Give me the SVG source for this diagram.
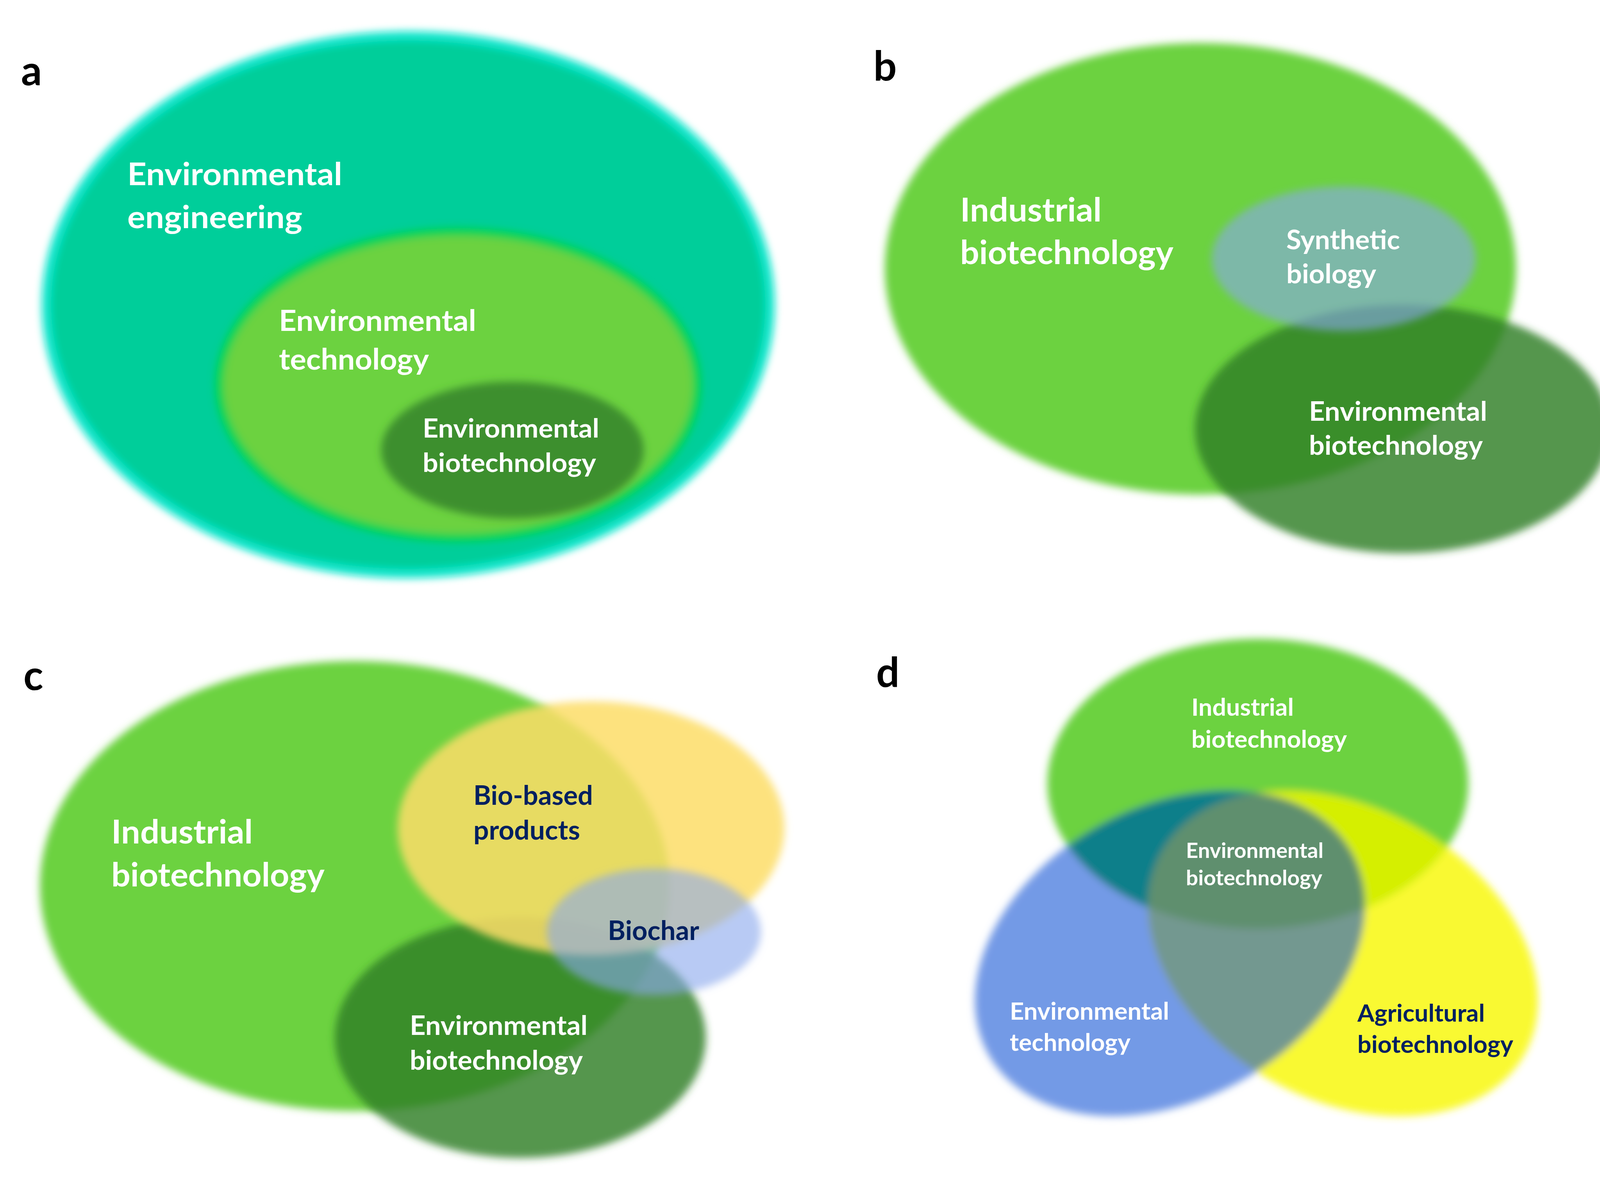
<svg xmlns="http://www.w3.org/2000/svg" width="4184" height="3028" viewBox="0 0 4184 3028">
<defs>
<style>
.t{font-family:Lato,"Open Sans","Liberation Sans",sans-serif;font-weight:700}
.w{fill:#ffffff}
.n{fill:#002060}
.k{fill:#000000}
.s{filter:url(#soft)}
</style>
<filter id="soft" x="-15%" y="-15%" width="130%" height="130%"><feGaussianBlur stdDeviation="10"/></filter>
<clipPath id="cBlue"><ellipse cx="2995" cy="2440" rx="532" ry="374" transform="rotate(-29 2995 2440)"/></clipPath>
<clipPath id="cYellow"><ellipse cx="3438" cy="2440" rx="532" ry="374" transform="rotate(29 3438 2440)"/></clipPath>
</defs>
<rect width="4184" height="3028" fill="#ffffff"/>

<!-- Panel a -->
<g id="panel-a">
<text class="t k" x="54" y="218" font-size="105">a</text>
<g id="a-environmental-engineering">
<ellipse class="s" cx="1045" cy="780" rx="926" ry="688" fill="#00CE9A" stroke="#10E6CC" stroke-width="24"/>
<text class="t w" font-size="81"><tspan x="326" y="474" textLength="550" lengthAdjust="spacingAndGlyphs">Environmental</tspan><tspan x="326" y="584" textLength="448" lengthAdjust="spacingAndGlyphs">engineering</tspan></text>
</g>
<g id="a-environmental-technology">
<ellipse class="s" cx="1173" cy="985" rx="612" ry="392" fill="#6CD241" stroke="#00D455" stroke-width="22"/>
<text class="t w" font-size="75"><tspan x="714" y="847" textLength="505" lengthAdjust="spacingAndGlyphs">Environmental</tspan><tspan x="714" y="946" textLength="384" lengthAdjust="spacingAndGlyphs">technology</tspan></text>
</g>
<g id="a-environmental-biotechnology">
<ellipse class="s" cx="1312" cy="1152" rx="336" ry="175" fill="#3D8F2E"/>
<text class="t w" font-size="67"><tspan x="1082" y="1120" textLength="452" lengthAdjust="spacingAndGlyphs">Environmental</tspan><tspan x="1082" y="1208" textLength="444" lengthAdjust="spacingAndGlyphs">biotechnology</tspan></text>
</g>
</g>

<!-- Panel b -->
<g id="panel-b">
<text class="t k" x="2236" y="206" font-size="105">b</text>
<g id="b-industrial-biotechnology">
<ellipse class="s" cx="3073" cy="688" rx="808" ry="578" fill="#6CD241"/>
<text class="t w" font-size="84"><tspan x="2458" y="567" textLength="362" lengthAdjust="spacingAndGlyphs">Industrial</tspan><tspan x="2458" y="676" textLength="546" lengthAdjust="spacingAndGlyphs">biotechnology</tspan></text>
</g>
<g id="b-environmental-biotechnology">
<ellipse class="s" cx="3590" cy="1098" rx="531" ry="318" fill="#317F27" fill-opacity="0.82"/>
<text class="t w" font-size="68"><tspan x="3351" y="1077" textLength="456" lengthAdjust="spacingAndGlyphs">Environmental</tspan><tspan x="3351" y="1164" textLength="445" lengthAdjust="spacingAndGlyphs">biotechnology</tspan></text>
</g>
<g id="b-synthetic-biology">
<ellipse class="s" cx="3440" cy="662" rx="338" ry="185" fill="#88A7ED" fill-opacity="0.6"/>
<text class="t w" font-size="68"><tspan x="3293" y="638" textLength="291" lengthAdjust="spacingAndGlyphs">Synthetic</tspan><tspan x="3293" y="725" textLength="230" lengthAdjust="spacingAndGlyphs">biology</tspan></text>
</g>
</g>

<!-- Panel c -->
<g id="panel-c">
<text class="t k" x="60" y="1766" font-size="105">c</text>
<g id="c-industrial-biotechnology">
<ellipse class="s" cx="908" cy="2268" rx="806" ry="576" fill="#6CD241"/>
<text class="t w" font-size="84"><tspan x="285" y="2159" textLength="362" lengthAdjust="spacingAndGlyphs">Industrial</tspan><tspan x="285" y="2269" textLength="546" lengthAdjust="spacingAndGlyphs">biotechnology</tspan></text>
</g>
<g id="c-environmental-biotechnology">
<ellipse class="s" cx="1332" cy="2656" rx="475" ry="308" fill="#317F27" fill-opacity="0.82"/>
<text class="t w" font-size="68"><tspan x="1049" y="2649" textLength="455" lengthAdjust="spacingAndGlyphs">Environmental</tspan><tspan x="1049" y="2738" textLength="443" lengthAdjust="spacingAndGlyphs">biotechnology</tspan></text>
</g>
<g id="c-bio-based-products">
<ellipse class="s" cx="1513" cy="2120" rx="495" ry="325" fill="#FDDD68" fill-opacity="0.85"/>
<text class="t n" font-size="68"><tspan x="1212" y="2060" textLength="306" lengthAdjust="spacingAndGlyphs">Bio-based</tspan><tspan x="1212" y="2149" textLength="273" lengthAdjust="spacingAndGlyphs">products</tspan></text>
</g>
<g id="c-biochar">
<ellipse class="s" cx="1674" cy="2385" rx="274" ry="162" fill="#88A7ED" fill-opacity="0.6"/>
<text class="t n" x="1556" y="2406" font-size="68" textLength="234" lengthAdjust="spacingAndGlyphs">Biochar</text>
</g>
</g>

<!-- Panel d -->
<g id="panel-d">
<text class="t k" x="2243" y="1758" font-size="105">d</text>
<g id="d-fills" class="s">
<g id="d-environmental-technology-shape"><ellipse cx="2995" cy="2440" rx="532" ry="374" transform="rotate(-29 2995 2440)" fill="#739AE6"/></g>
<g id="d-agricultural-biotechnology-shape"><ellipse cx="3438" cy="2440" rx="532" ry="374" transform="rotate(29 3438 2440)" fill="#F9F932"/></g>
<g id="d-industrial-biotechnology-shape"><ellipse cx="3220" cy="2006" rx="539" ry="371" fill="#6CD241"/></g>
<g id="d-overlaps">
<g clip-path="url(#cBlue)"><ellipse cx="3220" cy="2006" rx="539" ry="371" fill="#0C7F8A"/></g>
<g clip-path="url(#cYellow)"><ellipse cx="3220" cy="2006" rx="539" ry="371" fill="#D5EF00"/></g>
<g clip-path="url(#cBlue)"><ellipse cx="3438" cy="2440" rx="532" ry="374" transform="rotate(29 3438 2440)" fill="#739890"/></g>
</g>
<g id="d-environmental-biotechnology-shape"><g clip-path="url(#cBlue)"><g clip-path="url(#cYellow)"><ellipse cx="3220" cy="2006" rx="539" ry="371" fill="#5E8F6E"/></g></g></g>
</g>
<g id="d-environmental-technology">
<text class="t w" font-size="61"><tspan x="2585" y="2610" textLength="408" lengthAdjust="spacingAndGlyphs">Environmental</tspan><tspan x="2585" y="2690" textLength="309" lengthAdjust="spacingAndGlyphs">technology</tspan></text>
</g>
<g id="d-agricultural-biotechnology">
<text class="t n" font-size="61"><tspan x="3475" y="2615" textLength="326" lengthAdjust="spacingAndGlyphs">Agricultural</tspan><tspan x="3475" y="2695" textLength="399" lengthAdjust="spacingAndGlyphs">biotechnology</tspan></text>
</g>
<g id="d-industrial-biotechnology">
<text class="t w" font-size="61"><tspan x="3050" y="1832" textLength="262" lengthAdjust="spacingAndGlyphs">Industrial</tspan><tspan x="3050" y="1914" textLength="398" lengthAdjust="spacingAndGlyphs">biotechnology</tspan></text>
</g>
<g id="d-environmental-biotechnology">
<text class="t w" font-size="54"><tspan x="3036" y="2196" textLength="352" lengthAdjust="spacingAndGlyphs">Environmental</tspan><tspan x="3036" y="2266" textLength="349" lengthAdjust="spacingAndGlyphs">biotechnology</tspan></text>
</g>
</g>
</svg>
